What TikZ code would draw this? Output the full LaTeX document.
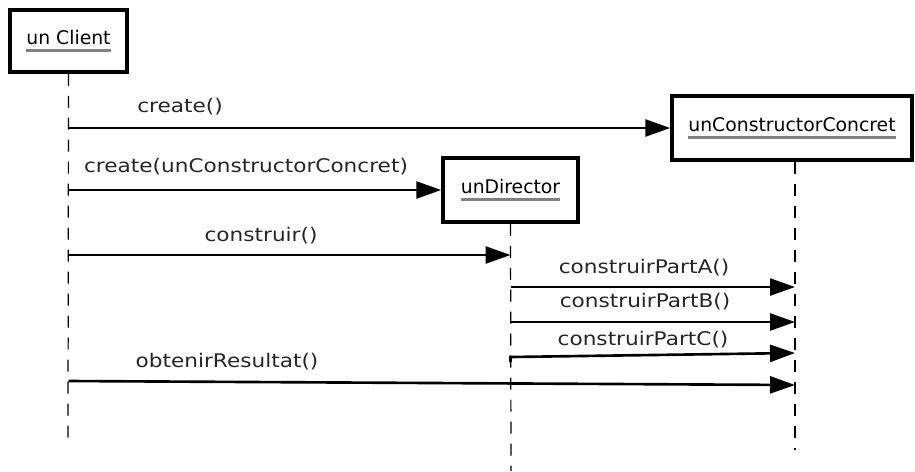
\documentclass[tikz,border=0pt]{standalone}
\usepackage{fontspec}
\setmainfont{DejaVu Sans}
\usetikzlibrary{arrows.meta}

\newlength{\namewd}
\newcommand{\objname}[1]{%
  \settowidth{\namewd}{#1}%
  \vtop{\offinterlineskip\hbox{#1}\kern2.5pt\hbox{\textcolor{gray}{\rule{\namewd}{1.4pt}}}}}

\tikzset{
  object/.style={draw, line width=2pt, fill=white, inner sep=0pt,
    font=\fontsize{10.7}{12}\selectfont},
  lifeline/.style={line width=0.7pt, dash pattern=on 0.24cm off 0.2cm},
  message/.style={line width=1.5pt, -{Triangle[length=0.5cm,width=0.34cm]}},
  msglabel/.style={font=\fontsize{10.7}{12}\selectfont, inner sep=0pt,
    text=black!85, xscale=1.15, transform shape}
}

\begin{document}
\begin{tikzpicture}[x=0.02cm, y=-0.02cm]
    \useasboundingbox (0,0) rectangle (915,471);

    % objects
    \node[object, minimum width=2.34cm, minimum height=1.24cm] (client)
      at (68.5,41) {\objname{un Client}};
    \node[object, minimum width=4.8cm, minimum height=1.28cm] (concret)
      at (792,128) {\objname{unConstructorConcret}};
    \node[object, minimum width=2.7cm, minimum height=1.28cm] (director)
      at (510.5,190) {\objname{unDirector}};

    % lifeline ends
    \coordinate (client-end) at (68,440);
    \coordinate (concret-end) at (795,450);
    \coordinate (director-end) at (511,471);

    \draw[lifeline] (client.south) -- (client-end);
    \draw[lifeline] (concret.south -| concret-end) -- (concret-end);
    \draw[lifeline] (director.south) -- (director-end);

    % message rows
    \coordinate (row-construir) at (0,255);
    \coordinate (row-a) at (0,287);
    \coordinate (row-b) at (0,322);
    \coordinate (row-c) at (0,353);
    \coordinate (row-c0) at (0,362);
    \coordinate (row-res) at (0,381);
    \coordinate (row-res2) at (0,385);

    \draw[message] (client.south |- concret.west) -- (concret.west);
    \draw[message] (client.south |- director.west) -- (director.west);
    \draw[message] (client.south |- row-construir) -- (director.south |- row-construir);
    \draw[message] (director.south |- row-a) -- (concret-end |- row-a);
    \draw[message] (director.south |- row-b) -- (concret-end |- row-b);
    \draw[message] (director.south |- row-c0) -- ++(0,-5) -- (concret-end |- row-c);
    \draw[message] (client.south |- row-res) -- (concret-end |- row-res2);

    % labels
    \node[msglabel] (l-create) at (180,107) {create()};
    \node[msglabel] (l-create2) at (246,167) {create(unConstructorConcret)};
    \node[msglabel] (l-construir) at (261,236) {construir()};
    \node[msglabel] (l-a) at (644,268) {construirPartA()};
    \node[msglabel] (l-b) at (645,302) {construirPartB()};
    \node[msglabel] (l-c) at (643,340) {construirPartC()};
    \node[msglabel] (l-res) at (227,362) {obtenirResultat()};
\end{tikzpicture}
\end{document}
